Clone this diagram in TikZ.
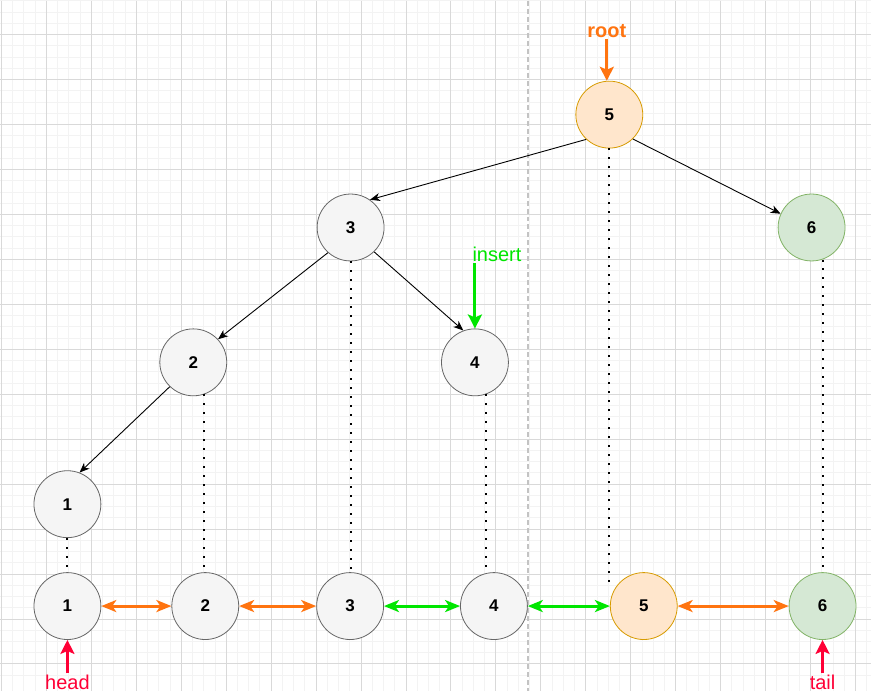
\documentclass[tikz,border=0pt]{standalone}
\usepackage{fontspec}
\setmainfont{Liberation Sans}
\usetikzlibrary{arrows.meta}

\definecolor{grismenor}{HTML}{F3F3F3}
\definecolor{grismayor}{HTML}{D9D9D9}
\definecolor{grisnodo}{HTML}{F5F5F5}
\definecolor{bordenodo}{HTML}{666666}
\definecolor{fondonaranja}{HTML}{FFE6CC}
\definecolor{bordenaranja}{HTML}{D79B00}
\definecolor{fondoverde}{HTML}{D5E8D4}
\definecolor{bordeverde}{HTML}{82B366}
\definecolor{naranja}{HTML}{FF7410}
\definecolor{verde}{HTML}{00E600}
\definecolor{rojo}{HTML}{FF0036}

\begin{document}
\begin{tikzpicture}[x=1pt, y=-1pt,
        nodo/.style={circle, draw=bordenodo, fill=grisnodo, line width=0.8pt,
            minimum size=67pt, inner sep=0pt, font=\fontsize{17}{20}\selectfont\bfseries},
        nodonaranja/.style={nodo, draw=bordenaranja, fill=fondonaranja},
        nodoverde/.style={nodo, draw=bordeverde, fill=fondoverde},
        etiqueta/.style={inner sep=1pt, font=\fontsize{20}{22}\selectfont},
        arista/.style={-{Stealth[length=10pt, width=8pt, inset=3pt]}, line width=0.9pt},
        punteada/.style={line width=2pt, dash pattern=on 2pt off 7pt},
        doble/.style={{Stealth[length=15pt, width=12pt, inset=4pt]}-{Stealth[length=15pt, width=12pt, inset=4pt]}, line width=3pt},
        puntero/.style={-{Stealth[length=14pt, width=14pt, inset=3pt]}, line width=3pt}]

        % Fondo y cuadricula
        \fill[white] (0,0) rectangle (871,691);
        \foreach \i in {0,...,77} \draw[grismenor, line width=1pt] ({1+11.25*\i},0) -- ({1+11.25*\i},691);
        \foreach \j in {1,...,61} \draw[grismenor, line width=1pt] (0,{-11+11.25*\j}) -- (871,{-11+11.25*\j});
        \foreach \i in {0,...,19} \draw[grismayor, line width=1pt] ({1+45*\i},0) -- ({1+45*\i},691);
        \foreach \j in {1,...,15} \draw[grismayor, line width=1pt] (0,{-11+45*\j}) -- (871,{-11+45*\j});
        \draw[grismayor!90!black, line width=1.5pt, dash pattern=on 5pt off 3pt] (528,0) -- (528,691);

        % Arbol
        \node[nodonaranja] (r5) at (609.5,114) {5};
        \node[nodo] (t3) at (350.5,227) {3};
        \node[nodoverde] (t6) at (812,227) {6};
        \node[nodo] (t2) at (193,362) {2};
        \node[nodo] (t4) at (475,362) {4};
        \node[nodo] (t1) at (67,504) {1};

        \draw[arista] (r5.-133) -- (t3.55);
        \draw[arista] (r5.-46) -- (t6.156);
        \draw[arista] (t3.-132) -- (t2.43);
        \draw[arista] (t3.-46) -- (t4.110);
        \draw[arista] (t2.-134) -- (t1.69);

        % Lista enlazada
        \node[nodo] (b1) at (67,606) {1};
        \node[nodo] (b2) at (205,606) {2};
        \node[nodo] (b3) at (350,606) {3};
        \node[nodo] (b4) at (494,606) {4};
        \node[nodonaranja] (b5) at (644,606) {5};
        \node[nodoverde] (b6) at (823,606) {6};

        \draw[doble, naranja] (b1) -- (b2);
        \draw[doble, naranja] (b2) -- (b3);
        \draw[doble, verde] (b3) -- (b4);
        \draw[doble, verde] (b4) -- (b5);
        \draw[doble, naranja] (b5) -- (b6);

        % Lineas punteadas
        \coordinate (d5) at (609.5,586);
        \draw[punteada] (t1.south) -- (b1.north);
        \draw[punteada] (t2.-71) -- (t2.-71 |- b2.north);
        \draw[punteada] (t3.south) -- (t3.south |- b3.north);
        \draw[punteada] (t4.-71) -- (t4.-71 |- b4.north);
        \draw[punteada] (r5.south) -- (d5);
        \draw[punteada] (t6.-71) -- (t6.-71 |- b6.north);

        % Punteros
        \node[etiqueta, text=naranja, font=\fontsize{20}{22}\selectfont\bfseries] (root) at (607,30) {root};
        \node[etiqueta, text=verde] (insert) at (497,254) {insert};
        \node[etiqueta, text=rojo] (head) at (67,682) {head};
        \node[etiqueta, text=rojo] (tail) at (823,682) {tail};

        \draw[puntero, naranja] (root.south) -- (root.south |- r5.north);
        \draw[puntero, verde] (insert.south -| t4.north) -- (t4.north);
        \draw[puntero, rojo] (head.north) -- (b1.south);
        \draw[puntero, rojo] (tail.north) -- (b6.south);

        \useasboundingbox (0,0) rectangle (871,691);
    \end{tikzpicture}
\end{document}
